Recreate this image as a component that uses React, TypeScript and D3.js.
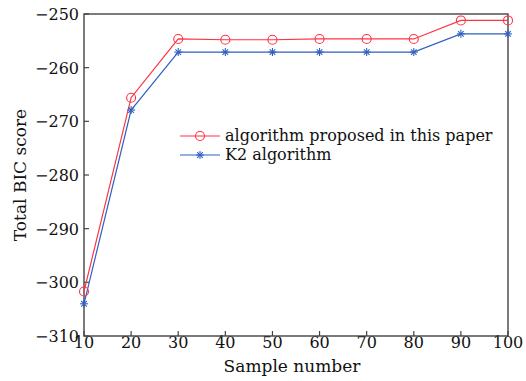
import React from "react";
import * as d3 from "d3";

const sampleNumbers = [10, 20, 30, 40, 50, 60, 70, 80, 90, 100];
const proposedScores = [-301.7, -265.6, -254.65, -254.8, -254.8, -254.65, -254.65, -254.65, -251.2, -251.2];
const k2Scores = [-304, -267.9, -257.1, -257.1, -257.1, -257.1, -257.1, -257.1, -253.7, -253.7];
const yTicks = [-250, -260, -270, -280, -290, -300, -310];
const xTicks = [10, 20, 30, 40, 50, 60, 70, 80, 90, 100];
const seriesNames = ["algorithm proposed in this paper", "K2 algorithm"];

const W = 526, H = 381;
const L = 84, R = 508, T = 14, B = 336;
const RED = "#ff3344";
const BLUE = "#3060c0";
const AX = "#444";
const FONT = "'DejaVu Serif', serif";

export default function App() {
  const x = d3.scaleLinear().domain([10, 100]).range([L, R]);
  const y = d3.scaleLinear().domain([-310, -250]).range([B, T]);
  const line = d3.line<number>().x((_, i) => x(sampleNumbers[i])).y(d => y(d));
  const fmt = (v: number) => (v < 0 ? "\u2212" + Math.abs(v) : String(v));

  const star = (cx: number, cy: number, key: string, s = 4) => (
    <g key={key} stroke={BLUE} strokeWidth={1.1}>
      <line x1={cx - s} y1={cy} x2={cx + s} y2={cy} />
      <line x1={cx} y1={cy - s} x2={cx} y2={cy + s} />
      <line x1={cx - s * 0.7} y1={cy - s * 0.7} x2={cx + s * 0.7} y2={cy + s * 0.7} />
      <line x1={cx - s * 0.7} y1={cy + s * 0.7} x2={cx + s * 0.7} y2={cy - s * 0.7} />
    </g>
  );

  return (
    <svg width={W} height={H} style={{ position: "absolute", left: 0, top: 0, background: "#fff" }}>
      <rect x={0} y={0} width={W} height={H} fill="#fff" />
      {xTicks.map(t => (
        <g key={"xt" + t}>
          <line x1={x(t)} x2={x(t)} y1={B} y2={B - 5} stroke={AX} strokeWidth={1.2} />
          <text x={x(t)} y={B + 12} textAnchor="middle" fontFamily={FONT} fontSize={16} fill="#111">{t}</text>
        </g>
      ))}
      {yTicks.map(t => (
        <g key={"yt" + t}>
          <line x1={L} x2={L + 5} y1={y(t)} y2={y(t)} stroke={AX} strokeWidth={1.2} />
          <text x={L - 5} y={y(t) + 6} textAnchor="end" fontFamily={FONT} fontSize={16} fill="#111">{fmt(t)}</text>
        </g>
      ))}
      <rect x={L} y={T} width={R - L} height={B - T} fill="none" stroke={AX} strokeWidth={1.4} />
      <path d={line(k2Scores) || ""} fill="none" stroke={BLUE} strokeWidth={1.2} />
      <path d={line(proposedScores) || ""} fill="none" stroke={RED} strokeWidth={1.2} />
      {k2Scores.map((v, i) => star(x(sampleNumbers[i]), y(v), "s" + i))}
      {proposedScores.map((v, i) => (
        <circle key={"c" + i} cx={x(sampleNumbers[i])} cy={y(v)} r={4.5} fill="none" stroke={RED} strokeWidth={1.1} />
      ))}
      <g>
        <line x1={180} x2={220} y1={136} y2={136} stroke={RED} strokeWidth={1.2} />
        <circle cx={200} cy={136} r={4.5} fill="none" stroke={RED} strokeWidth={1.1} />
        <text x={225} y={141} fontFamily={FONT} fontSize={16} fill="#111">{seriesNames[0]}</text>
        <line x1={180} x2={220} y1={155} y2={155} stroke={BLUE} strokeWidth={1.2} />
        {star(200, 155, "ls")}
        <text x={225} y={160} fontFamily={FONT} fontSize={16} fill="#111">{seriesNames[1]}</text>
      </g>
      <text x={292} y={372} textAnchor="middle" fontFamily={FONT} fontSize={17} fill="#111">Sample number</text>
      <text transform={`translate(26,${(T + B) / 2}) rotate(-90)`} textAnchor="middle" fontFamily={FONT} fontSize={17} fill="#111">Total BIC score</text>
    </svg>
  );
}
